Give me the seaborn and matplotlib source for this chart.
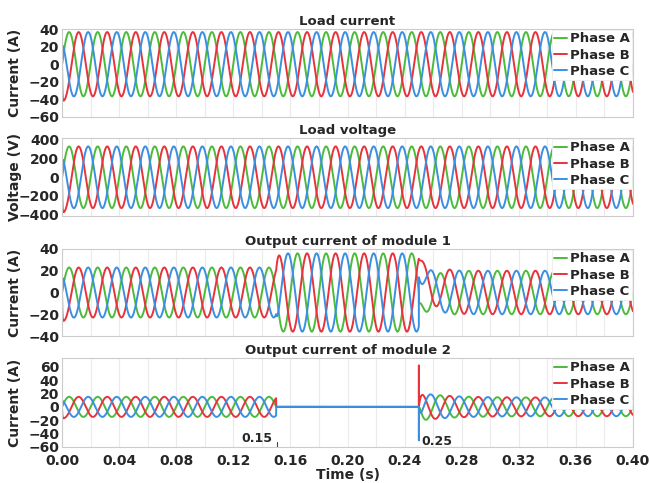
import numpy as np
import pandas as pd
import matplotlib
matplotlib.use('Agg')
import matplotlib.pyplot as plt
import seaborn as sns

# grid and phase set-up
FREQ = 50.0
PHASES = ['Phase A', 'Phase B', 'Phase C']
PHASE_SHIFT_DEG = [0, -120, 120]
COLORS = ['#4cbb3a', '#e8323c', '#3b8fe2']

# start-up transient (fraction of amplitude, per phase)
START_OFFSET = [0.0, -0.27, -0.22]

# amplitudes
LOAD_CURRENT_AMP = 36.5
LOAD_VOLTAGE_AMP = 330.0
SWITCH_TIMES = [0.15, 0.25]
M1_AMPS = [23.0, 36.0, 20.0]            # before 0.15, 0.15-0.25, after 0.25
M1_RECONNECT_OFFSET = [-10.0, 30.0, 14.0]
M2_AMPS = [15.0, 0.0, 14.0]
M2_RECONNECT_PEAK = 21.0
M2_SPIKE = [0.0, 62.0, -50.0]

PANELS = [
    ('Load current', 'Current (A)', (-60, 40), [-60, -40, -20, 0, 20, 40]),
    ('Load voltage', 'Voltage (V)', (-415, 420), [-400, -200, 0, 200, 400]),
    ('Output current of module 1', 'Current (A)', (-40, 40), [-40, -20, 0, 20, 40]),
    ('Output current of module 2', 'Current (A)', (-60, 73), [-60, -40, -20, 0, 20, 40, 60]),
]
X_TICKS = [0.00, 0.04, 0.08, 0.12, 0.16, 0.20, 0.24, 0.28, 0.32, 0.36, 0.40]

t = np.arange(0, 0.4, 2e-5)
w = 2 * np.pi * FREQ


def base(k):
    return np.sin(w * t + np.deg2rad(PHASE_SHIFT_DEG[k]))


def start_up(k):
    return (1 - np.exp(-t / 0.0002)) * (base(k) + START_OFFSET[k] * np.exp(-t / 0.002))


def steady(amp):
    return [amp * start_up(k) for k in range(3)]


def module1():
    t1, t2 = SWITCH_TIMES
    out = []
    for k in range(3):
        y = M1_AMPS[0] * start_up(k)
        m = (t >= t1) & (t < t2)
        env = M1_AMPS[1] + (M1_AMPS[0] - M1_AMPS[1]) * np.exp(-(t[m] - t1) / 0.001)
        y[m] = env * base(k)[m]
        m = t >= t2
        dt = t[m] - t2
        y[m] = (M1_AMPS[2] * (1 - np.exp(-dt / 0.005)) * base(k)[m]
                + M1_RECONNECT_OFFSET[k] * np.exp(-dt / 0.007))
        out.append(y)
    return out


def module2():
    t1, t2 = SWITCH_TIMES
    out = []
    for k in range(3):
        y = M2_AMPS[0] * start_up(k)
        y[(t >= t1) & (t < t2)] = M2_AMPS[1]
        m = t >= t2
        dt = t[m] - t2
        env = (M2_AMPS[2] + (M2_RECONNECT_PEAK - M2_AMPS[2]) * np.exp(-dt / 0.02)) * (1 - np.exp(-dt / 0.001))
        y[m] = env * base(k)[m]
        y[np.argmin(np.abs(t - t2))] = M2_SPIKE[k]
        out.append(y)
    return out


series = [steady(LOAD_CURRENT_AMP), steady(LOAD_VOLTAGE_AMP), module1(), module2()]

sns.set_theme(style='white')
plt.rcParams['font.family'] = ['DejaVu Sans']
plt.rcParams['font.weight'] = 'bold'

fig = plt.figure(figsize=(6.49, 4.83), dpi=100)
left, width = 62 / 649, 571 / 649
boxes = [(29, 117), (138, 216), (249, 336), (358, 447)]
palette = dict(zip(PHASES, COLORS))

for i, ((title, ylabel, ylim, yticks), waves, (top, bot)) in enumerate(zip(PANELS, series, boxes)):
    ax = fig.add_axes([left, 1 - bot / 483, width, (bot - top) / 483])
    df = pd.concat([pd.DataFrame({'t': t, 'v': waves[k], 'Phase': PHASES[k]}) for k in range(3)])
    sns.lineplot(data=df, x='t', y='v', hue='Phase', palette=palette, estimator=None,
                 sort=False, linewidth=1.4, ax=ax)
    ax.set_xlim(0, 0.4)
    ax.set_ylim(*ylim)
    ax.set_yticks(yticks)
    ax.set_xticks(X_TICKS)
    ax.set_xticks(np.arange(0, 0.401, 0.02), minor=True)
    ax.grid(True, which='both', axis='x', color='#ebebeb', linewidth=0.8)
    ax.set_axisbelow(True)
    ax.tick_params(axis='y', length=0, which='both', labelsize=10, pad=2)
    ax.tick_params(axis='x', length=0, which='both', labelsize=10, pad=5)
    for lab in ax.get_yticklabels() + ax.get_xticklabels():
        lab.set_fontweight('bold')
    for s in ax.spines.values():
        s.set_color('#cccccc')
        s.set_linewidth(0.8)
    ax.set_title(title, fontsize=9.5, fontweight='bold', pad=3)
    ax.set_ylabel(ylabel, fontsize=10, fontweight='bold')
    ax.yaxis.set_label_coords(-0.07, 0.5)
    if i < 3:
        ax.set_xlabel('')
        ax.set_xticklabels([])
    else:
        ax.set_xlabel('Time (s)', fontsize=10, fontweight='bold', labelpad=0)
        ax.set_xticklabels([f'{x:.2f}' for x in X_TICKS])
        ax.text(0.1475, -48, '0.15', ha='right', va='center', fontsize=9, fontweight='bold')
        ax.plot([0.1505, 0.1505], [-53, -60], color='#444444', linewidth=0.8)
        ax.text(0.2515, -52, '0.25', ha='left', va='center', fontsize=9, fontweight='bold')
    leg = ax.legend(loc='upper right', fontsize=9.5, frameon=True, handlelength=1.0,
                    handletextpad=0.2, labelspacing=0.25, borderpad=0.15, borderaxespad=0.1,
                    fancybox=False, framealpha=1)
    leg.get_frame().set_edgecolor('#eeeeee')
    leg.get_frame().set_linewidth(0.6)
    for txt in leg.get_texts():
        txt.set_fontweight('bold')
    for h in leg.get_lines():
        h.set_linewidth(1.4)

fig.savefig('out.png', dpi=100)
